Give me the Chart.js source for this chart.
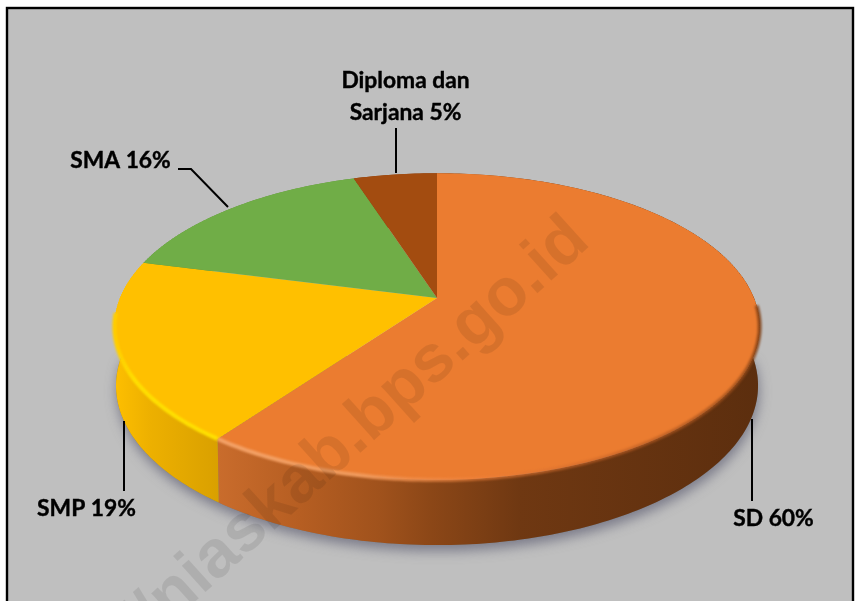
<!DOCTYPE html>
<html><head><meta charset="utf-8">
<style>html,body{margin:0;padding:0;background:#fff}canvas{display:block}</style>
<script src="https://cdn.jsdelivr.net/npm/chart.js@4"></script>
</head><body><canvas id="c" width="856" height="601"></canvas>
<script>
const categories = ["SD", "SMP", "SMA", "Diploma dan Sarjana"];
const values = [60, 19, 16, 5];
const topColors = ["#EB7C30", "#FFC000", "#70AD47", "#A34C10"];

// perspective of the pie disc
const CX = 437, CY = 298, K = 0.186, B = 148, A = 317, DEPTH = 58;
function proj(theta, lower) {
  const u = Math.cos(theta), v = Math.sin(theta), den = 1 - K * v;
  const fx = lower ? 0.995 : 1, fy = lower ? 1.04 : 1;
  return [CX + fx * A * u / den, CY + (lower ? DEPTH : 0) + fy * B * v / den];
}
function rimPath(ctx, s, e, lower, first) {
  const n = Math.max(8, Math.ceil(Math.abs(e - s) * 60));
  for (let i = 0; i <= n; i++) {
    const p = proj(s + (e - s) * i / n, lower);
    if (first && i === 0) ctx.moveTo(p[0], p[1]); else ctx.lineTo(p[0], p[1]);
  }
}
function grad(ctx, stops) {
  const g = ctx.createLinearGradient(110, 0, 765, 0);
  stops.forEach(s => g.addColorStop((s[0] - 110) / 655, s[1]));
  return g;
}

const pie3d = {
  id: "pie3d",
  beforeDraw(chart) {
    const ctx = chart.ctx;
    ctx.save();
    ctx.fillStyle = "#fff"; ctx.fillRect(0, 0, 856, 601);
    ctx.fillStyle = "#bfbfbf"; ctx.fillRect(7, 8, 846, 600);
    ctx.strokeStyle = "#000"; ctx.lineWidth = 2.4;
    ctx.strokeRect(7, 8, 846, 640);
    ctx.restore();
  },
  beforeDatasetDraw(chart) {
    const ctx = chart.ctx, arcs = chart.getDatasetMeta(0).data;
    const a0 = arcs[0], R = a0.outerRadius, ax = a0.x, ay = a0.y;

    // soft shadow under the disc
    ctx.save();
    ctx.shadowColor = "rgba(95,95,115,0.7)";
    ctx.shadowBlur = 12; ctx.shadowOffsetY = 6; ctx.shadowOffsetX = 1;
    ctx.fillStyle = "#777";
    ctx.beginPath(); rimPath(ctx, 0, Math.PI, true, true); ctx.closePath(); ctx.fill();
    ctx.restore();

    // side walls
    const wallFill = [
      grad(ctx, [[218, "#C96C2C"], [300, "#B65E22"], [380, "#A0521C"], [430, "#8C4717"], [520, "#6F3812"], [760, "#5C2E0E"]]),
      grad(ctx, [[112, "#FFC000"], [150, "#EDB000"], [219, "#D9A000"]]),
      "#5F8F3A", "#8A3E0C"
    ];
    arcs.forEach((arc, i) => {
      ctx.beginPath();
      rimPath(ctx, arc.startAngle, arc.endAngle, false, true);
      rimPath(ctx, arc.endAngle, arc.startAngle, true, false);
      ctx.closePath();
      ctx.fillStyle = wallFill[i]; ctx.fill();
    });

    // top face: the library's arcs, drawn row by row through the perspective
    const top = Math.floor(CY - B / (1 + K)) - 1, bot = Math.ceil(CY + B / (1 - K)) + 1;
    for (let y = top; y < bot; y += 2) {
      const ym = y + 1, d = ym - CY, v = d / (B + K * d), den = 1 - K * v;
      const sx = A / R / den, sy = B / den / den / R;
      ctx.save();
      ctx.beginPath(); ctx.rect(0, y, 856, 2); ctx.clip();
      ctx.setTransform(sx, 0, 0, sy, CX - ax * sx, ym - (ay + R * v) * sy);
      arcs.forEach(a => a.draw(ctx));
      ctx.restore();
    }

    // bevel along the front rim
    const bevel = [
      grad(ctx, [[218, "#F4A267"], [360, "#F09A5C"], [480, "rgba(240,130,60,0.6)"], [600, "rgba(200,100,40,0.6)"], [745, "rgba(150,75,25,0.8)"], [765, "rgba(120,60,20,0.9)"]]),
      grad(ctx, [[112, "#FFCB00"], [135, "#FFE000"], [219, "#FFE000"]])
    ];
    ctx.save();
    ctx.filter = "blur(1.3px)";
    ctx.beginPath(); rimPath(ctx, 0.05, arcs[0].endAngle, false, true);
    ctx.strokeStyle = bevel[0]; ctx.lineWidth = 4; ctx.stroke();
    ctx.beginPath(); rimPath(ctx, arcs[1].startAngle, arcs[1].endAngle - 0.35, false, true);
    ctx.strokeStyle = bevel[1]; ctx.lineWidth = 4; ctx.stroke();
    ctx.restore();
    return false;
  },
  afterDraw(chart) {
    const ctx = chart.ctx;
    const labelLines = [
      [categories[0] + " " + values[0] + "%"],
      [categories[1] + " " + values[1] + "%"],
      [categories[2] + " " + values[2] + "%"],
      ["Diploma dan", "Sarjana " + values[3] + "%"]
    ];
    const anchors = [[773.5, [519]], [86.5, [509]], [120.5, [161]], [405.5, [81, 113]]];
    ctx.save();
    ctx.fillStyle = "#000"; ctx.strokeStyle = "#000"; ctx.lineWidth = 0.4;
    ctx.font = "bold 22.8px Lato, 'Open Sans', sans-serif";
    ctx.textAlign = "center"; ctx.textBaseline = "middle";
    labelLines.forEach((ls, i) => ls.forEach((t, j) => {
      ctx.fillText(t, anchors[i][0], anchors[i][1][j]);
      ctx.strokeText(t, anchors[i][0], anchors[i][1][j]);
    }));
    ctx.lineWidth = 2;
    [[[752, 419], [752, 501]], [[124, 421], [124, 491]], [[178, 169], [191, 169], [228, 207]], [[396, 128], [396, 173]]].forEach(l => {
      ctx.beginPath(); l.forEach((p, i) => i ? ctx.lineTo(p[0], p[1]) : ctx.moveTo(p[0], p[1])); ctx.stroke();
    });
    // watermark
    ctx.beginPath(); ctx.rect(0, 0, 856, 601); ctx.clip();
    ctx.translate(592, 244);
    ctx.rotate(-42 * Math.PI / 180);
    ctx.font = "bold 67px 'Liberation Sans', Arial, sans-serif";
    ctx.textAlign = "right"; ctx.textBaseline = "alphabetic";
    ctx.fillStyle = "rgba(0,0,0,0.085)";
    ctx.fillText("https://niaskab.bps.go.id", 0, 0);
    ctx.restore();
  }
};

new Chart(document.getElementById("c"), {
  type: "pie",
  data: { labels: categories, datasets: [{ data: values, backgroundColor: topColors, borderWidth: 0 }] },
  options: {
    responsive: false, animation: false,
    plugins: { legend: { display: false }, tooltip: { enabled: false } }
  },
  plugins: [pie3d]
});
</script></body></html>
